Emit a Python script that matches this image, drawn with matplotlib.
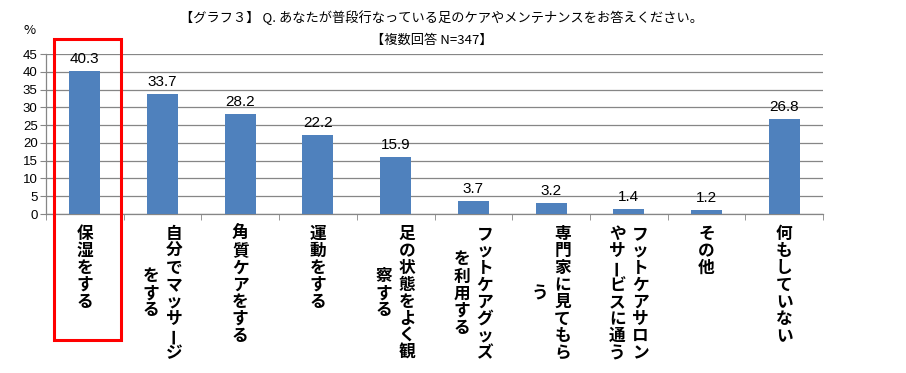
import matplotlib
matplotlib.use("Agg")
import matplotlib.pyplot as plt
from matplotlib.patches import Rectangle
import numpy as np

plt.rcParams['font.family'] = ['Noto Sans CJK JP', 'DejaVu Sans']

# Data
categories = ["保湿をする", "自分でマッサージをする", "角質ケアをする", "運動をする",
              "足の状態をよく観察する", "フットケアグッズを利用する", "専門家に見てもらう",
              "フットケアサロンやサービスに通う", "その他", "何もしていない"]
values = [40.3, 33.7, 28.2, 22.2, 15.9, 3.7, 3.2, 1.4, 1.2, 26.8]
yticks = [0, 5, 10, 15, 20, 25, 30, 35, 40, 45]

title1 = "【グラフ３】 Q. あなたが普段行なっている足のケアやメンテナンスをお答えください。"
title2 = "【複数回答 N=347】"

fig = plt.figure(figsize=(9.06, 3.73), dpi=100)
ax = fig.add_axes([46 / 906, 1 - 214 / 373, 777 / 906, 160 / 373])

x = np.arange(len(categories))
bars = ax.bar(x, values, width=0.4, color='#4F81BD', zorder=3)

ax.set_xlim(-0.5, len(categories) - 0.5)
ax.set_ylim(0, 45)
ax.set_yticks(yticks)
ax.set_yticklabels([str(t) for t in yticks], fontsize=9.5, family='Liberation Sans')
ax.yaxis.grid(True, color='#868686', linewidth=0.9, zorder=0)
ax.tick_params(axis='y', length=4, color='#868686', pad=2)

ax.set_xticks([])
ax.set_xticks(np.arange(-0.5, len(categories)), minor=True)
ax.tick_params(axis='x', which='minor', length=4, color='#868686', direction='out')

for s in ['top', 'right']:
    ax.spines[s].set_visible(False)
for s in ['left', 'bottom']:
    ax.spines[s].set_color('#868686')
    ax.spines[s].set_linewidth(0.9)

# value labels
for xi, v in zip(x, values):
    ax.annotate(f"{v:.1f}", xy=(xi, v), xytext=(0, 5), textcoords='offset pixels',
                ha='center', va='bottom', fontsize=11, family='Liberation Sans')

# vertical Japanese category labels (columns right to left, 8 chars per column)
pitch = 17
colgap = 23
maxlen = 8
for xi, lab in zip(x, categories):
    cols = [lab[i:i + maxlen] for i in range(0, len(lab), maxlen)]
    n = len(cols)
    top = -20
    center = top - (maxlen - 1) * pitch / 2 if n > 1 else None
    for k, col in enumerate(cols):
        dx = (n - 1) / 2 * colgap - k * colgap
        for j, ch in enumerate(col):
            if n > 1:
                dy = center + ((len(col) - 1) / 2 - j) * pitch
            else:
                dy = top - j * pitch
            rot = 90 if ch == "ー" else 0
            ax.annotate(ch, xy=(xi, 0), xycoords=('data', 'axes fraction'),
                        xytext=(dx, dy), textcoords='offset pixels',
                        ha='center', va='center', fontsize=12, fontweight='bold',
                        rotation=rot, annotation_clip=False)

# titles and unit
fig.text(441 / 906, 1 - 18 / 373, title1, ha='center', va='center', fontsize=9.5)
fig.text(432 / 906, 1 - 40 / 373, title2, ha='center', va='center', fontsize=9.5)
fig.text(30 / 906, 1 - 31 / 373, "%", ha='center', va='center', fontsize=9.5)

# red highlight box around first category
fig.add_artist(Rectangle((54 / 906, 1 - 340 / 373), 67 / 906, 301 / 373,
                         transform=fig.transFigure, fill=False,
                         edgecolor='#FF0000', linewidth=2.2))

fig.savefig("out.png", dpi=100)
